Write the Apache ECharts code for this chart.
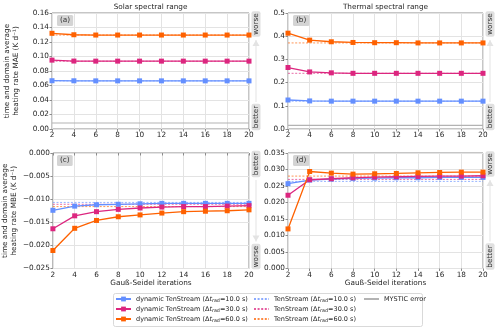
<!doctype html>
<html>
<head>
    <meta charset="utf-8">
    <title>TenStream Gauß-Seidel</title>
    <script src="https://cdn.jsdelivr.net/npm/echarts@6/dist/echarts.min.js"></script>
    <style>
        body { margin: 0; background: #fff; }
    </style>
</head>
<body>
    <div id="container" style="width:500px;height:330px;"></div>

    <script type="text/javascript">
        // Gauß-Seidel iterations (x axis)
        var iters = [2, 4, 6, 8, 10, 12, 14, 16, 18, 20];

        // (a) solar MAE, dynamic TenStream for dt = 10, 30, 60 s
        var solarMae10 = [0.0666, 0.0665, 0.0664, 0.0664, 0.0664, 0.0664, 0.0664, 0.0664, 0.0664, 0.0664];
        var solarMae30 = [0.0950, 0.0937, 0.0936, 0.0936, 0.0936, 0.0936, 0.0936, 0.0936, 0.0936, 0.0936];
        var solarMae60 = [0.1320, 0.1300, 0.1296, 0.1296, 0.1296, 0.1296, 0.1296, 0.1296, 0.1296, 0.1296];
        // (b) thermal MAE
        var thermMae10 = [0.125, 0.121, 0.120, 0.120, 0.120, 0.120, 0.120, 0.120, 0.120, 0.120];
        var thermMae30 = [0.265, 0.246, 0.242, 0.240, 0.240, 0.240, 0.240, 0.240, 0.240, 0.240];
        var thermMae60 = [0.413, 0.383, 0.376, 0.373, 0.372, 0.372, 0.371, 0.371, 0.371, 0.371];
        // (c) solar MBE
        var solarMbe10 = [-0.0124, -0.0115, -0.0112, -0.0111, -0.0110, -0.0109, -0.0109, -0.0109, -0.0109, -0.0109];
        var solarMbe30 = [-0.0164, -0.0136, -0.0127, -0.0122, -0.0119, -0.0117, -0.0116, -0.0116, -0.0115, -0.0114];
        var solarMbe60 = [-0.0211, -0.0163, -0.0146, -0.0138, -0.0134, -0.0130, -0.0127, -0.0126, -0.0125, -0.0123];
        // (d) thermal MBE
        var thermMbe10 = [0.0257, 0.0268, 0.0271, 0.0273, 0.0274, 0.0275, 0.0275, 0.0276, 0.0276, 0.0276];
        var thermMbe30 = [0.0222, 0.0269, 0.0272, 0.0275, 0.0277, 0.0278, 0.0279, 0.0280, 0.0280, 0.0281];
        var thermMbe60 = [0.0120, 0.0294, 0.0289, 0.0286, 0.0287, 0.0288, 0.0290, 0.0291, 0.0292, 0.0292];

        // TenStream (non dynamic) reference errors, order: 10, 30, 60 s
        var tsSolarMae = [0.0664, 0.0935, 0.1296];
        var tsThermMae = [0.120, 0.240, 0.371];
        var tsSolarMbe = [-0.0107, -0.0111, -0.0116];
        var tsThermMbe = [0.0264, 0.0270, 0.0280];

        // MYSTIC error (MAE panels)
        var mysticMae = [0.0083, 0.0158];

        var dtNames = ['10.0', '30.0', '60.0'];
        var colors = ['#648fff', '#dc267f', '#fe6100'];
        var FONT = 'DejaVu Sans';

        var panels = [
            { dyn: [solarMae10, solarMae30, solarMae60], ts: tsSolarMae, mystic: mysticMae[0] },
            { dyn: [thermMae10, thermMae30, thermMae60], ts: tsThermMae, mystic: mysticMae[1] },
            { dyn: [solarMbe10, solarMbe30, solarMbe60], ts: tsSolarMbe, mystic: null },
            { dyn: [thermMbe10, thermMbe30, thermMbe60], ts: tsThermMbe, mystic: null }
        ];

        function dynName(k) { return 'dynamic TenStream (Δt_rad=' + dtNames[k] + ' s)'; }
        function tsName(k) { return 'TenStream (Δt_rad=' + dtNames[k] + ' s)'; }

        var grids = [
            { left: 52, top: 13, width: 197, height: 116 },
            { left: 288, top: 13, width: 195, height: 116 },
            { left: 52, top: 153, width: 197, height: 115.5 },
            { left: 288, top: 153, width: 195, height: 115.5 }
        ];
        grids.forEach(function (g) {
            g.show = true;
            g.borderColor = '#8c8c8c';
            g.borderWidth = 1;
            g.backgroundColor = '#fff';
        });

        function minus(s) { return s.replace('-', '−'); }

        var yCfg = [
            { min: 0, max: 0.16, interval: 0.02, dec: 2, name: 'time and domain average\nheating rate MAE (K d⁻¹)' },
            { min: 0, max: 0.5, interval: 0.1, dec: 1, name: '' },
            { min: -0.025, max: 0, interval: 0.005, dec: 3, name: 'time and domain average\nheating rate MBE (K d⁻¹)' },
            { min: 0, max: 0.035, interval: 0.005, dec: 3, name: '' }
        ];

        var labelStyle = { fontFamily: FONT, fontSize: 7.3, color: '#262626' };

        var xAxes = [], yAxes = [], series = [];
        for (var p = 0; p < 4; p++) {
            xAxes.push({
                type: 'value', gridIndex: p, min: 2, max: 20, interval: 2,
                name: p >= 2 ? 'Gauß-Seidel iterations' : '',
                nameLocation: 'middle', nameGap: 11,
                nameTextStyle: labelStyle,
                axisLine: { show: false },
                axisTick: { show: true, length: 2.5, lineStyle: { color: '#8c8c8c' } },
                axisLabel: Object.assign({ margin: 3 }, labelStyle),
                splitLine: { show: true, lineStyle: { color: '#e3e3e3', width: 1 } }
            });
            (function (c) {
                yAxes.push({
                    type: 'value', gridIndex: p, min: c.min, max: c.max, interval: c.interval,
                    name: c.name, nameLocation: 'middle', nameGap: 31, nameRotate: 90,
                    nameTextStyle: Object.assign({ lineHeight: 9 }, labelStyle),
                    axisLine: { show: false },
                    axisTick: { show: true, length: 2.5, lineStyle: { color: '#8c8c8c' } },
                    axisLabel: Object.assign({
                        margin: 3,
                        formatter: function (v) { return minus(v.toFixed(c.dec)); }
                    }, labelStyle),
                    splitLine: { show: true, lineStyle: { color: '#e3e3e3', width: 1 } }
                });
            })(yCfg[p]);

            var pan = panels[p];
            // TenStream reference lines (dashed)
            for (var k = 0; k < 3; k++) {
                series.push({
                    name: tsName(k), type: 'line', xAxisIndex: p, yAxisIndex: p,
                    data: [[iters[0], pan.ts[k]], [iters[iters.length - 1], pan.ts[k]]],
                    symbol: 'none', silent: true, z: 2,
                    color: colors[k],
                    lineStyle: { width: 0.9, type: [2, 1.6], color: colors[k], opacity: 0.75 }
                });
            }
            if (pan.mystic !== null) {
                series.push({
                    name: 'MYSTIC error', type: 'line', xAxisIndex: p, yAxisIndex: p,
                    data: [[iters[0], pan.mystic], [iters[iters.length - 1], pan.mystic]],
                    symbol: 'none', silent: true, z: 1,
                    color: '#b3b3b3',
                    lineStyle: { width: 1.2, color: '#b3b3b3' }
                });
            }
            // dynamic TenStream
            for (var k2 = 0; k2 < 3; k2++) {
                var vals = pan.dyn[k2];
                series.push({
                    name: dynName(k2), type: 'line', xAxisIndex: p, yAxisIndex: p,
                    data: iters.map(function (x, i) { return [x, vals[i]]; }),
                    symbol: 'rect', symbolSize: 5, z: 3,
                    color: colors[k2],
                    itemStyle: { color: colors[k2] },
                    lineStyle: { width: 1.3, color: colors[k2] }
                });
            }
        }

        var LF = 6.5;
        var legendRich = {
            n: { fontFamily: FONT, fontSize: LF, color: '#262626', lineHeight: 8 },
            i: { fontFamily: FONT, fontSize: LF, fontStyle: 'italic', color: '#262626', lineHeight: 8 },
            s: { fontFamily: FONT, fontSize: 4.8, color: '#262626', padding: [3, 0, 0, 0], lineHeight: 8 }
        };
        function legendFormatter(name) {
            var m = name.match(/^(.*)\(Δt_rad=(.*)\)$/);
            if (!m) return '{n|' + name + '}';
            return '{n|' + m[1] + '(Δ}{i|t}{s|rad}{n|=' + m[2] + ')}';
        }
        function makeLegend(left, names, plain) {
            return {
                left: left, top: 295, orient: 'vertical',
                width: 150, height: 60, padding: 0,
                itemWidth: 15, itemHeight: 6, itemGap: 2,
                data: names.map(function (n) {
                    return plain ? { name: n, itemStyle: { opacity: 0 } } : { name: n };
                }),
                selectedMode: false,
                formatter: legendFormatter,
                textStyle: { rich: legendRich, fontSize: LF, fontFamily: FONT, lineHeight: 8 }
            };
        }

        // "worse"/"better" side annotations with an arrow
        function sideNote(x, yTop, yBot, upIsWorse) {
            var els = [];
            var topTxt = upIsWorse ? 'worse' : 'better';
            var botTxt = upIsWorse ? 'better' : 'worse';
            var tagStyle = function (t) {
                return {
                    text: t, x: 0, y: 0, align: 'center', verticalAlign: 'middle',
                    fontFamily: FONT, fontSize: 7.3, fill: '#333',
                    backgroundColor: '#e0e0e0', borderRadius: 2, padding: [1, 2]
                };
            };
            els.push({ type: 'text', x: x, y: yTop + 11, rotation: Math.PI / 2, style: tagStyle(topTxt) });
            els.push({ type: 'text', x: x, y: yBot - 12, rotation: Math.PI / 2, style: tagStyle(botTxt) });
            var a0 = yTop + 27, a1 = yBot - 27;
            els.push({
                type: 'line', shape: { x1: x, y1: a0, x2: x, y2: a1 },
                style: { stroke: '#e3e3e3', lineWidth: 1 }
            });
            var head = upIsWorse
                ? [[x - 3.5, a0 + 6], [x + 3.5, a0 + 6], [x, a0]]
                : [[x - 3.5, a1 - 6], [x + 3.5, a1 - 6], [x, a1]];
            els.push({ type: 'polygon', shape: { points: head }, style: { fill: '#e3e3e3' } });
            return els;
        }

        function panelTag(x, y, t) {
            return {
                type: 'text', x: x, y: y, z: 10,
                style: {
                    text: t, fontFamily: FONT, fontSize: 7.3, fill: '#333',
                    backgroundColor: '#d4d4d4', borderRadius: 1.5, padding: [2, 3]
                }
            };
        }

        var graphics = [
            { type: 'text', x: 150.5, y: 7, style: { text: 'Solar spectral range', align: 'center', verticalAlign: 'middle', fontFamily: FONT, fontSize: 7.3, fill: '#262626' } },
            { type: 'text', x: 385.5, y: 7, style: { text: 'Thermal spectral range', align: 'center', verticalAlign: 'middle', fontFamily: FONT, fontSize: 7.3, fill: '#262626' } },
            panelTag(57, 15, '(a)'), panelTag(293, 15, '(b)'),
            panelTag(57, 155, '(c)'), panelTag(293, 155, '(d)'),
            {
                type: 'rect', z: -1, shape: { x: 113.5, y: 293.5, width: 309, height: 33, r: 2 },
                style: { fill: '#fff', stroke: '#d9d9d9', lineWidth: 1 }
            }
        ];
        graphics = graphics
            .concat(sideNote(256, 13, 129, true))
            .concat(sideNote(490, 13, 129, true))
            .concat(sideNote(256, 153, 268.5, false))
            .concat(sideNote(490, 153, 268.5, true));

        var option = {
            animation: false,
            backgroundColor: '#fff',
            grid: grids,
            xAxis: xAxes,
            yAxis: yAxes,
            legend: [
                makeLegend(115, [dynName(0), dynName(1), dynName(2)], false),
                makeLegend(253, [tsName(0), tsName(1), tsName(2)], true),
                makeLegend(363, ['MYSTIC error'], true)
            ],
            graphic: graphics,
            series: series
        };

        var myChart = echarts.init(document.getElementById('container'));
        myChart.setOption(option);
    </script>
</body>
</html>
